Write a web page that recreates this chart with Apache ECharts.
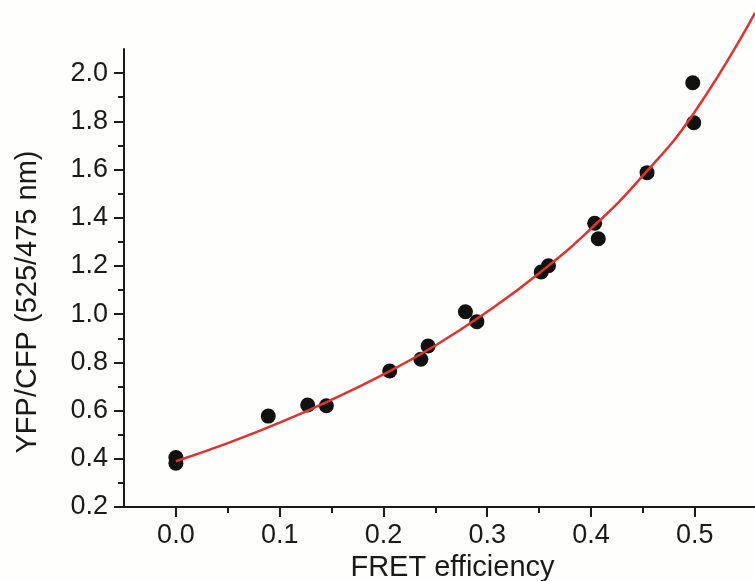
<!DOCTYPE html>
<html>
<head>
<meta charset="utf-8">
<script src="https://cdn.jsdelivr.net/npm/echarts@6/dist/echarts.min.js"></script>
<style>
  html, body { margin: 0; padding: 0; background: #fefefd; }
  #chart { width: 755px; height: 581px; }
</style>
</head>
<body>
<div id="chart"></div>
<script>
var fretX = [0, 0, 0.089, 0.127, 0.145, 0.206, 0.236, 0.243, 0.279, 0.290, 0.352, 0.359, 0.4035, 0.407, 0.454, 0.498, 0.499];
var ratioY = [0.405, 0.382, 0.577, 0.623, 0.620, 0.764, 0.813, 0.868, 1.010, 0.969, 1.175, 1.201, 1.377, 1.313, 1.587, 1.960, 1.794];

// red fit curve
var fitX = [0, 0.05, 0.1, 0.15, 0.2, 0.25, 0.3, 0.35, 0.4, 0.45, 0.5, 0.558];
var fitY = [0.39, 0.465, 0.55, 0.645, 0.75, 0.87, 1.01, 1.17, 1.355, 1.575, 1.84, 2.25];

// tick positions
var xMajor = [0, 0.1, 0.2, 0.3, 0.4, 0.5];
var xMinor = [0.05, 0.15, 0.25, 0.35, 0.45];
var yMajor = [0.2, 0.4, 0.6, 0.8, 1.0, 1.2, 1.4, 1.6, 1.8, 2.0];
var yMinor = [0.3, 0.5, 0.7, 0.9, 1.1, 1.3, 1.5, 1.7, 1.9];

var font = '"Liberation Sans", Arial, sans-serif';
var ink = '#1a1a1a';

var myChart = echarts.init(document.getElementById('chart'));

function pairs(xs, ys) {
    return xs.map(function (x, i) {
        return [x, ys[i]];
    });
}

var option = {
    animation: false,
    backgroundColor: '#fefefd',
    grid: {
        left: 124,
        right: 0,
        top: 49,
        bottom: 74,
        outerBoundsMode: 'none',
        containLabel: false
    },
    xAxis: [
        {
            type: 'value',
            position: 'bottom',
            min: -0.05,
            max: 0.558,
            name: 'FRET efficiency',
            nameLocation: 'middle',
            nameGap: 45,
            nameTextStyle: {color: ink, fontFamily: font, fontSize: 29, padding: [0, 0, 0, 26]},
            splitLine: {show: false},
            axisLine: {onZero: false, lineStyle: {color: ink, width: 2}},
            axisTick: {customValues: xMajor, length: 10, lineStyle: {color: ink, width: 2}},
            axisLabel: {
                customValues: xMajor,
                margin: 15,
                color: ink,
                fontFamily: font,
                fontSize: 27,
                formatter: function (v) {
                    return v.toFixed(1);
                }
            }
        },
        {//minor ticks only
            type: 'value',
            position: 'bottom',
            min: -0.05,
            max: 0.558,
            splitLine: {show: false},
            axisLine: {show: false, onZero: false},
            axisTick: {customValues: xMinor, length: 6, lineStyle: {color: ink, width: 2}},
            axisLabel: {show: false}
        }
    ],
    yAxis: [
        {
            type: 'value',
            position: 'left',
            min: 0.2,
            max: 2.1,
            name: 'YFP/CFP (525/475 nm)',
            nameLocation: 'middle',
            nameGap: 82,
            nameTextStyle: {color: ink, fontFamily: font, fontSize: 29, padding: [0, 48, 0, 0]},
            splitLine: {show: false},
            axisLine: {onZero: false, lineStyle: {color: ink, width: 2}},
            axisTick: {customValues: yMajor, length: 10, lineStyle: {color: ink, width: 2}},
            axisLabel: {
                customValues: yMajor,
                margin: 16,
                color: ink,
                fontFamily: font,
                fontSize: 27,
                formatter: function (v) {
                    return v.toFixed(1);
                }
            }
        },
        {//minor ticks only
            type: 'value',
            position: 'left',
            min: 0.2,
            max: 2.1,
            splitLine: {show: false},
            axisLine: {show: false, onZero: false},
            axisTick: {customValues: yMinor, length: 6, lineStyle: {color: ink, width: 2}},
            axisLabel: {show: false}
        }
    ],
    series: [
        {
            name: 'fit',
            type: 'line',
            data: pairs(fitX, fitY),
            smooth: true,
            showSymbol: false,
            clip: false,
            lineStyle: {color: '#e3322b', width: 2.5},
            z: 3
        },
        {
            name: 'data',
            type: 'scatter',
            data: pairs(fretX, ratioY),
            symbolSize: 15,
            itemStyle: {color: '#111111', opacity: 1},
            z: 2
        }
    ]
};

myChart.setOption(option);
</script>
</body>
</html>
